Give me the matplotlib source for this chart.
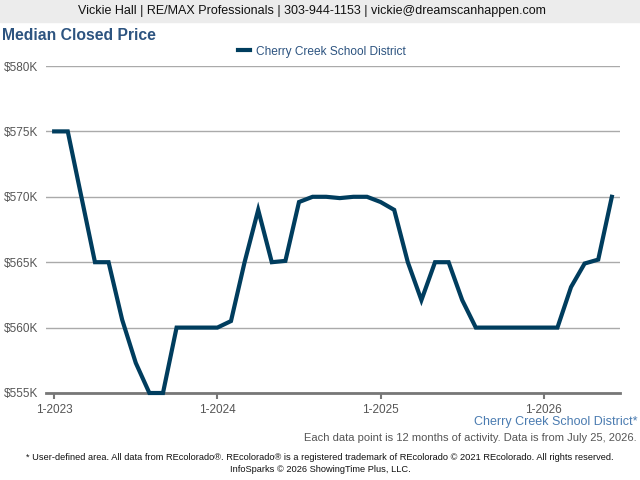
import numpy as np
import matplotlib.pyplot as plt
from matplotlib.patches import Rectangle

plt.rcParams['font.family'] = ['Liberation Sans', 'DejaVu Sans']

# monthly values, Jan 2023 .. Jun 2026 (in $K)
prices = [575, 575, 570, 565, 565, 560.6, 557.3, 555, 555, 560, 560, 560,
          560, 560.5, 565, 569, 565, 565.1, 569.6, 570, 570, 569.9, 570, 570,
          569.6, 569, 565, 562.1, 565, 565, 562.1, 560, 560, 560, 560, 560,
          560, 560, 563.1, 564.9, 565.2, 570]
tick_pos = [0, 12, 24, 36]
tick_labels = ['1-2023', '1-2024', '1-2025', '1-2026']
y_ticks = [555, 560, 565, 570, 575, 580]
area = 'Cherry Creek School District'

navy = '#003d5e'
title_col = '#2d5480'

fig = plt.figure(figsize=(6.4, 4.8), dpi=100)
fig.patches.append(Rectangle((0, 1 - 22/480), 1, 22/480, transform=fig.transFigure,
                             color='#ececec', zorder=0))
fig.text(312/640, 1 - 11/480, 'Vickie Hall | RE/MAX Professionals | 303-944-1153 | vickie@dreamscanhappen.com',
         ha='center', va='center', fontsize=9, color='#111111')
fig.text(2/640, 1 - 35/480, 'Median Closed Price', ha='left', va='center',
         fontsize=11.3, fontweight='bold', color=title_col)

ax = fig.add_axes([46/640, 1 - 393/480, 574/640, 327/480])
x = np.arange(len(prices))
ax.plot(x, prices, color=navy, lw=3, solid_joinstyle='miter', clip_on=False, zorder=3,
        label=area)
ax.set_xlim(-0.6, 41.6)
ax.set_ylim(555, 580)
ax.set_yticks(y_ticks)
ax.set_yticklabels(['${}K'.format(v) for v in y_ticks])
ax.set_xticks(tick_pos)
ax.set_xticklabels(tick_labels)
ax.grid(axis='y', color='#aaaaaa', lw=1)
ax.set_axisbelow(True)
for s in ['top', 'right', 'left']:
    ax.spines[s].set_visible(False)
ax.spines['bottom'].set_color('#777777')
ax.spines['bottom'].set_linewidth(2)
ax.tick_params(axis='y', length=0, pad=5.8, labelsize=8.5, labelcolor='#555555')
ax.tick_params(axis='x', length=4, width=1.5, color='#777777', pad=4,
               labelsize=8.5, labelcolor='#555555')

ax.legend(loc='lower center', bbox_to_anchor=(0.5 - 11/574, 1.0), frameon=False,
          fontsize=8.6, labelcolor=title_col, handlelength=1.0, handletextpad=0.5,
          borderaxespad=0.3)

fig.text(637/640, 1 - 422/480, area + '*', ha='right', va='center',
         fontsize=9, color='#4a7bb0')
fig.text(637/640, 1 - 438/480,
         'Each data point is 12 months of activity. Data is from July 25, 2026.',
         ha='right', va='center', fontsize=8, color='#555555')
fig.text(0.5, 1 - 457/480,
         '* User-defined area. All data from REcolorado\u00ae. REcolorado\u00ae is a registered trademark of REcolorado \u00a9 2021 REcolorado. All rights reserved.',
         ha='center', va='center', fontsize=6.7, color='#111111')
fig.text(0.5, 1 - 470/480, 'InfoSparks \u00a9 2026 ShowingTime Plus, LLC.',
         ha='center', va='center', fontsize=6.7, color='#111111')

fig.savefig('out.png', dpi=100)
